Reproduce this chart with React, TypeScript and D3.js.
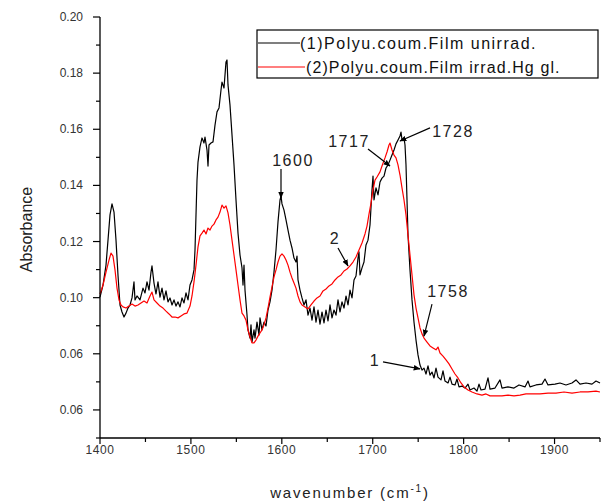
import React from "react";
import * as d3 from "d3";

const blackWn = [1400,1403.3,1406.6,1408.8,1411,1413.2,1415.4,1417.6,1419.8,1422,1424.2,1426.4,1428.6,1430.8,1433,1435.2,1437.4,1438.5,1440.7,1444,1447.3,1449.5,1451.7,1453.9,1456.1,1457.2,1459.4,1461.6,1463.8,1466,1468.2,1470.4,1472.6,1474.8,1477,1479.2,1481.4,1483.6,1485.8,1488,1490.2,1492.4,1494.6,1496.8,1499,1501.2,1503.4,1504.5,1505.6,1506.7,1507.8,1510,1512.2,1514.4,1515.5,1517.7,1518.8,1519.9,1522.1,1524.3,1526.5,1528.7,1530.9,1533.1,1534.2,1536.4,1538.6,1539.7,1540.8,1543,1545.2,1547.4,1549.6,1551.8,1554,1556.2,1557.3,1558.4,1559.5,1561.7,1562.8,1565,1566.1,1567.2,1569.4,1570.5,1572.7,1574.9,1576,1578.2,1580.4,1582.6,1584.8,1587,1589.2,1591.4,1593.6,1595.8,1598,1599.1,1600.2,1602.4,1604.6,1606.8,1609,1611.2,1613.4,1615.6,1616.7,1617.8,1620,1622.2,1624.4,1626.6,1628.8,1631,1633.2,1635.4,1637.6,1639.8,1642,1644.2,1646.4,1648.6,1650.8,1653,1655.2,1657.4,1659.6,1661.8,1664,1666.2,1668.4,1670.6,1672.8,1675,1677.2,1679.4,1681.6,1683.8,1684.9,1686,1688.2,1690.4,1692.6,1694.8,1697,1699.2,1700.3,1701.4,1703.6,1705.8,1708,1710.2,1712.4,1714.6,1716.8,1719,1721.2,1723.4,1725.6,1727.8,1730,1731.1,1732.2,1734.4,1735.5,1736.6,1737.7,1738.8,1741,1743.2,1745.4,1747.6,1749.8,1752,1754.2,1756.4,1758.6,1760.8,1763,1765.2,1767.4,1769.6,1771.8,1775.1,1777.3,1779.5,1782.8,1785,1787.2,1790.5,1792.7,1794.9,1798.2,1801.5,1804.8,1807,1811.4,1814.7,1816.9,1819.1,1823.5,1826.8,1829,1834.5,1840,1842.2,1848.8,1855.4,1860.9,1867.5,1870.8,1873,1879.6,1886.2,1889.5,1892.8,1900.5,1906,1912.6,1919.2,1923.6,1928,1934.6,1941.2,1945.6,1950];
const blackAbs = [0.1002,0.1045,0.1116,0.1205,0.1295,0.1334,0.1305,0.1205,0.108,0.0974,0.0949,0.0931,0.0945,0.0963,0.0974,0.0999,0.1056,0.0992,0.1006,0.0992,0.1034,0.1017,0.1056,0.1027,0.1091,0.1113,0.1052,0.1013,0.1056,0.1002,0.1034,0.0992,0.1024,0.0985,0.0999,0.0974,0.0992,0.097,0.0985,0.0967,0.0999,0.0981,0.1017,0.0992,0.1045,0.1063,0.1099,0.117,0.1295,0.1419,0.1483,0.1537,0.1569,0.1551,0.1572,0.1526,0.1469,0.1544,0.1551,0.1555,0.1615,0.1662,0.1676,0.174,0.1768,0.1747,0.184,0.1847,0.1758,0.1686,0.158,0.1473,0.1348,0.123,0.1152,0.1106,0.1045,0.1116,0.1027,0.0938,0.0885,0.0856,0.0903,0.0842,0.0885,0.0856,0.0913,0.0867,0.0928,0.0885,0.0913,0.0899,0.0956,0.0985,0.1027,0.1091,0.117,0.127,0.1348,0.1362,0.1334,0.1312,0.1277,0.1241,0.1205,0.1177,0.1141,0.1127,0.1148,0.1063,0.1027,0.0999,0.0974,0.0992,0.0938,0.0963,0.092,0.0967,0.0913,0.0956,0.0906,0.0949,0.091,0.0956,0.0917,0.0974,0.0928,0.0956,0.0938,0.0992,0.0949,0.0985,0.0963,0.1006,0.0974,0.1027,0.0999,0.1063,0.1077,0.1141,0.1163,0.1081,0.1106,0.1127,0.1188,0.1205,0.1259,0.1384,0.1433,0.1348,0.1391,0.1366,0.1412,0.1426,0.1433,0.1462,0.1473,0.149,0.1508,0.1526,0.1548,0.1562,0.1576,0.159,0.1562,0.1569,0.1544,0.1473,0.1348,0.1223,0.1099,0.0992,0.0913,0.0849,0.0796,0.076,0.0742,0.0749,0.0728,0.0757,0.0724,0.0735,0.0714,0.0749,0.0717,0.0707,0.0739,0.0703,0.0696,0.0717,0.0692,0.0689,0.071,0.0682,0.0685,0.0678,0.0692,0.0671,0.0678,0.0667,0.0692,0.0671,0.0674,0.0714,0.0674,0.0678,0.0707,0.0678,0.0682,0.0678,0.0689,0.0682,0.0703,0.0682,0.0689,0.0692,0.071,0.0689,0.0692,0.0696,0.0689,0.0696,0.0707,0.0692,0.0696,0.0692,0.0703,0.0696];

const redWn = [1400,1403.3,1406.6,1409.9,1412.1,1414.3,1416.5,1418.7,1420.9,1423.1,1425.3,1428.6,1431.9,1435.2,1438.5,1441.8,1445.1,1448.4,1451.7,1455,1457.2,1459.4,1462.7,1466,1469.3,1472.6,1475.9,1479.2,1482.5,1485.8,1489.1,1492.4,1495.7,1499,1501.2,1503.4,1505.6,1507.8,1510,1512.2,1514.4,1516.6,1518.8,1521,1523.2,1525.4,1527.6,1529.8,1532,1534.2,1536.4,1538.6,1540.8,1543,1545.2,1547.4,1549.6,1551.8,1554,1556.2,1558.4,1560.6,1562.8,1565,1567.2,1569.4,1571.6,1573.8,1576,1578.2,1580.4,1582.6,1584.8,1587,1589.2,1591.4,1593.6,1595.8,1598,1600.2,1602.4,1604.6,1606.8,1609,1611.2,1613.4,1615.6,1617.8,1620,1622.2,1625.5,1628.8,1632.1,1635.4,1638.7,1642,1645.3,1648.6,1651.9,1655.2,1658.5,1661.8,1665.1,1668.4,1671.7,1675,1678.3,1681.6,1684.9,1688.2,1691.5,1693.7,1695.9,1698.1,1700.3,1702.5,1704.7,1708,1710.2,1713.5,1715.7,1717.9,1719,1721.2,1723.4,1725.6,1727.8,1730,1732.2,1734.4,1736.6,1738.8,1741,1743.2,1745.4,1747.6,1749.8,1752,1754.2,1756.4,1759.7,1763,1766.3,1769.6,1771.8,1774,1777.3,1780.6,1783.9,1787.2,1790.5,1793.8,1797.1,1800.4,1804.8,1809.2,1814.7,1820.2,1824.6,1829,1835.6,1842.2,1848.8,1855.4,1862,1868.6,1875.2,1884,1892.8,1901.6,1910.4,1919.2,1928,1936.8,1945.6,1950];
const redAbs = [0.1013,0.1045,0.1091,0.1134,0.1159,0.1148,0.1099,0.1034,0.0992,0.0974,0.0967,0.0963,0.097,0.0977,0.097,0.0974,0.0981,0.0988,0.0981,0.1006,0.102,0.0992,0.0981,0.097,0.0963,0.0952,0.0942,0.0931,0.0931,0.0928,0.0935,0.0942,0.0945,0.097,0.1006,0.1056,0.1116,0.1181,0.122,0.123,0.1241,0.1227,0.1248,0.1241,0.1255,0.1262,0.1277,0.1287,0.1305,0.133,0.1319,0.1327,0.1302,0.1259,0.1205,0.1152,0.1099,0.1045,0.0992,0.0945,0.0935,0.092,0.0885,0.086,0.0839,0.0839,0.0849,0.0863,0.0874,0.0885,0.0903,0.0928,0.0963,0.1002,0.1038,0.1074,0.1099,0.1127,0.1148,0.1156,0.1148,0.1134,0.1116,0.1091,0.107,0.1052,0.1034,0.1006,0.0985,0.0974,0.0967,0.096,0.0974,0.0988,0.0999,0.1006,0.1024,0.1031,0.1042,0.1049,0.1063,0.1074,0.1081,0.1095,0.1102,0.1113,0.1127,0.1145,0.117,0.1195,0.1227,0.1255,0.1298,0.1337,0.1384,0.1419,0.143,0.1448,0.1469,0.1498,0.1519,0.1544,0.1551,0.1526,0.1508,0.1498,0.1473,0.1437,0.1391,0.1348,0.1295,0.1223,0.1152,0.1081,0.101,0.0963,0.0928,0.0892,0.0871,0.0856,0.0842,0.0828,0.0821,0.0814,0.0824,0.0803,0.0792,0.0778,0.0764,0.0746,0.0728,0.0714,0.0696,0.0682,0.0671,0.0664,0.0657,0.0653,0.0657,0.065,0.065,0.065,0.0653,0.065,0.0653,0.0657,0.0657,0.0657,0.066,0.066,0.0664,0.066,0.0664,0.0664,0.0667,0.0664];

const seriesNames = ["(1)Polyu.coum.Film unirrad.", "(2)Polyu.coum.Film irrad.Hg gl."];
const seriesColors = ["#000000", "#ff0000"];

const xTicks = [1400, 1500, 1600, 1700, 1800, 1900];
const xMinor = [1450, 1550, 1650, 1750, 1850, 1950];
const yTicks = [0.06, 0.08, 0.10, 0.12, 0.14, 0.16, 0.18, 0.20];
const yTickLabels = ["0.06", "0.06", "0.10", "0.12", "0.14", "0.16", "0.18", "0.20"];
const yMinor = [0.05, 0.07, 0.09, 0.11, 0.13, 0.15, 0.17, 0.19];

// annotation: label, text anchor (wn, abs), arrow from (wn,abs) to (wn,abs)
const annotLabels = ["1600", "2", "1717", "1728", "1758", "1"];
const annotText = [[1612.3, 0.1469], [1658.5, 0.1191], [1673.9, 0.1537], [1788.3, 0.1572], [1782.8, 0.1002], [1702.5, 0.0757]];
const annotFrom = [[1599.1, 0.1458], [1661.8, 0.1177], [1694.8, 0.153], [1763, 0.1605], [1765.2, 0.0977], [1711.3, 0.0771]];
const annotTo = [[1599.1, 0.1355], [1672.8, 0.1113], [1719, 0.1469], [1730, 0.1558], [1756.4, 0.0863], [1752, 0.0746]];

const W = 603, H = 504;
const left = 100, right = 600, top = 17, bottom = 438;
const FONT = "'Liberation Sans', Arial, sans-serif";

export default function App() {
  const x = d3.scaleLinear().domain([1400, 1950]).range([left, right]);
  const y = d3.scaleLinear().domain([0.05, 0.20]).range([bottom, top]);
  const line = d3.line<[number, number]>().x(d => x(d[0])).y(d => y(d[1]));
  const blackPts = blackWn.map((w, i) => [w, blackAbs[i]] as [number, number]);
  const redPts = redWn.map((w, i) => [w, redAbs[i]] as [number, number]);

  return (
    <svg width={W} height={H} style={{ position: "absolute", left: 0, top: 0, background: "#fff" }} fontFamily={FONT}>
      <defs>
        <marker id="arr" viewBox="0 0 10 10" refX="9" refY="5" markerWidth="7" markerHeight="7" orient="auto" markerUnits="userSpaceOnUse">
          <path d="M0,1 L10,5 L0,9 Z" fill="#000" />
        </marker>
      </defs>
      <rect x={0} y={0} width={W} height={H} fill="#fff" />
      {/* curves */}
      <path d={line(blackPts) || ""} fill="none" stroke={seriesColors[0]} strokeWidth={1.2} strokeLinejoin="round" />
      <path d={line(redPts) || ""} fill="none" stroke={seriesColors[1]} strokeWidth={1.2} strokeLinejoin="round" />
      {/* axes */}
      <line x1={left} x2={left} y1={top} y2={bottom} stroke="#000" strokeWidth={1.3} />
      <line x1={left} x2={right} y1={bottom} y2={bottom} stroke="#000" strokeWidth={1.3} />
      {yTicks.map((t, i) => (
        <g key={"yt" + i}>
          <line x1={left - 7} x2={left} y1={y(t)} y2={y(t)} stroke="#000" strokeWidth={1.2} />
          <text x={left - 17} y={y(t) + 4} fontSize={12} textAnchor="end" fill="#333">{yTickLabels[i]}</text>
        </g>
      ))}
      {yMinor.map((t, i) => (
        <line key={"ym" + i} x1={left - 4} x2={left} y1={y(t)} y2={y(t)} stroke="#000" strokeWidth={1.2} />
      ))}
      {xTicks.map((t, i) => (
        <g key={"xt" + i}>
          <line x1={x(t)} x2={x(t)} y1={bottom} y2={bottom + 6} stroke="#000" strokeWidth={1.2} />
          <text x={x(t)} y={bottom + 16} fontSize={12} textAnchor="middle" fill="#333" letterSpacing={0.6}>{t}</text>
        </g>
      ))}
      {xMinor.map((t, i) => (
        <line key={"xm" + i} x1={x(t)} x2={x(t)} y1={bottom} y2={bottom + 4} stroke="#000" strokeWidth={1.2} />
      ))}
      {/* axis titles */}
      <text x={(left + right) / 2} y={498} fontSize={15} textAnchor="middle" fill="#222" letterSpacing={1.8}>
        wavenumber (cm<tspan dy={-6} fontSize={10}>-1</tspan><tspan dy={6}>)</tspan>
      </text>
      <text transform={`translate(32,${(top + bottom) / 2 + 2}) rotate(-90)`} fontSize={16} textAnchor="middle" fill="#222">Absorbance</text>
      {/* legend */}
      <rect x={257} y={30} width={341} height={48} fill="#fff" stroke="#000" strokeWidth={1.2} />
      <line x1={258} x2={300} y1={43} y2={43} stroke={seriesColors[0]} strokeWidth={1.2} />
      <text x={300} y={49} fontSize={16} fill="#111" letterSpacing={1.5}>{seriesNames[0]}</text>
      <line x1={258} x2={305} y1={67} y2={67} stroke={seriesColors[1]} strokeWidth={1.2} />
      <text x={306} y={73} fontSize={16} fill="#111" letterSpacing={1.1}>{seriesNames[1]}</text>
      {/* annotations */}
      {annotLabels.map((l, i) => (
        <g key={"an" + i}>
          <line x1={x(annotFrom[i][0])} y1={y(annotFrom[i][1])} x2={x(annotTo[i][0])} y2={y(annotTo[i][1])} stroke="#000" strokeWidth={1.2} markerEnd="url(#arr)" />
          <text x={x(annotText[i][0])} y={y(annotText[i][1])} fontSize={16} textAnchor="middle" fill="#222" letterSpacing={1.5}>{l}</text>
        </g>
      ))}
    </svg>
  );
}
